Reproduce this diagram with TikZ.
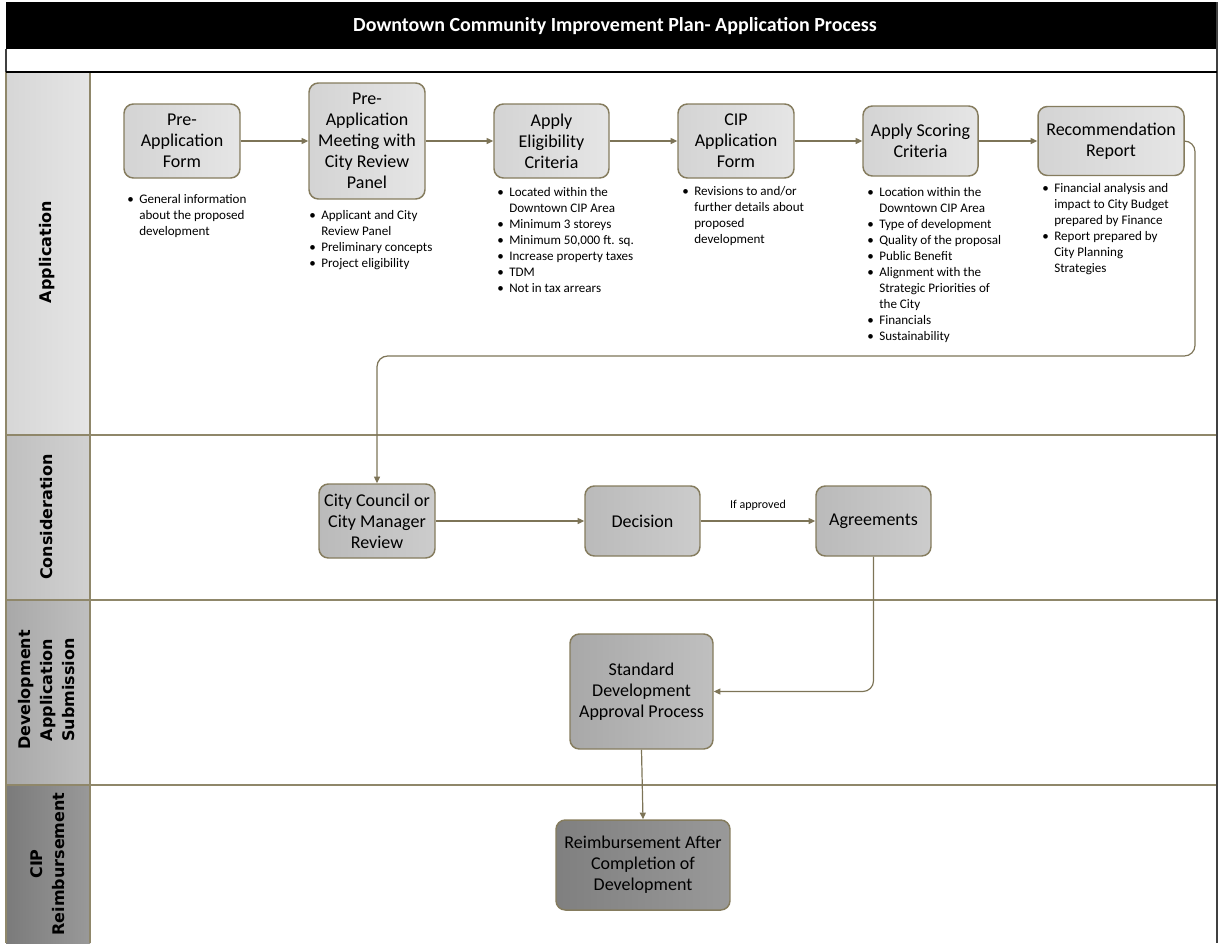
\documentclass[tikz,border=0pt]{standalone}
\usepackage{fontspec}
\setmainfont{Carlito}
\newfontfamily\lanefont{DejaVu Sans}
\usetikzlibrary{arrows.meta}
\definecolor{lineol}{HTML}{7D7457}
\definecolor{boxol}{HTML}{857C5E}
\definecolor{frameol}{HTML}{8F876A}
\newcommand{\bl}[1]{\begin{tabular}{@{}p{9pt}@{}l@{}}#1\end{tabular}}
\begin{document}
\begin{tikzpicture}[x=0.75pt,y=-0.75pt,
  box/.style={draw=boxol, line width=1.1pt, rounded corners=7pt, align=center,
    font=\fontsize{13.5}{15.75}\selectfont, inner sep=0pt},
  boxA/.style={box, left color=black!17, right color=black!10},
  boxB/.style={box, left color=black!27, right color=black!20},
  boxC/.style={box, left color=black!34, right color=black!25},
  boxD/.style={box, left color=black!50, right color=black!40},
  conn/.style={draw=lineol, line width=0.9pt, -{Triangle[length=5pt,width=4.5pt]}},
  blist/.style={anchor=north west, inner sep=0pt, font=\fontsize{9.8}{12}\selectfont},
  lane/.style={rotate=90, align=center, font=\lanefont\bfseries\fontsize{12}{16.5}\selectfont},
  sep/.style={draw=frameol, line width=1.1pt}]
\useasboundingbox (0,0) rectangle (1219,943);
% title bar
\fill[black] (6,2) rectangle (1217,49);
\node[text=white, font=\bfseries\fontsize{15}{18}\selectfont] (title) at (615,26) {Downtown Community Improvement Plan- Application Process};
% lane label column
\shade[left color=black!16, right color=black!10] (6,72) rectangle (90,435);
\shade[left color=black!25, right color=black!18] (6,435) rectangle (90,600);
\shade[left color=black!34, right color=black!25] (6,600) rectangle (90,785);
\shade[left color=black!52, right color=black!40] (6,785) rectangle (90,943);
% frame lines
\draw[sep] (6,435) -- (1217,435);
\draw[sep] (6,600) -- (1217,600);
\draw[sep] (6,785) -- (1217,785);
\draw[sep] (90,72) -- (90,943);
\draw[sep] (6,72) -- (6,943);
\draw[black!75, line width=1.1pt] (6,49) -- (6,72);
\draw[black!75, line width=1.1pt] (1217,2) -- (1217,943);
\draw[black, line width=1.3pt] (6,72) -- (1217,72);
% lane labels
\node[lane] (l1) at (47,252) {Application};
\node[lane] (l2) at (47,517) {Consideration};
\node[lane] (l3) at (47,690) {Development\\Application\\Submission};
\node[lane] (l4) at (48,864) {CIP\\Reimbursement};
% application boxes
\node[boxA, minimum width=87pt, minimum height=55.5pt] (b1) at (182,141) {Pre-\\Application\\Form};
\node[boxA, minimum width=87pt, minimum height=87pt] (b2) at (367,141) {Pre-\\Application\\Meeting with\\City Review\\Panel};
\node[boxA, minimum width=86.25pt, minimum height=55.5pt] (b3) at (551.5,141) {Apply\\Eligibility\\Criteria};
\node[boxA, minimum width=87pt, minimum height=55.5pt] (b4) at (736,141) {CIP\\Application\\Form};
\node[boxA, minimum width=86.25pt, minimum height=52.5pt] (b5) at (920.5,141) {Apply Scoring\\Criteria};
\node[boxA, minimum width=109.5pt, minimum height=51.75pt] (b6) at (1111,141) {Recommendation\\Report};
% bullet lists
\node[blist] (t1) at (127,192) {\bl{\textbullet & General information\\ & about the proposed\\ & development}};
\node[blist] (t2) at (309,208) {\bl{\textbullet & Applicant and City\\ & Review Panel\\ \textbullet & Preliminary concepts\\ \textbullet & Project eligibility}};
\node[blist] (t3) at (497,185) {\bl{\textbullet & Located within the\\ & Downtown CIP Area\\ \textbullet & Minimum 3 storeys\\ \textbullet & Minimum 50,000 ft. sq.\\ \textbullet & Increase property taxes\\ \textbullet & TDM\\ \textbullet & Not in tax arrears}};
\node[blist] (t4) at (682,184) {\bl{\textbullet & Revisions to and/or\\ & further details about\\ & proposed\\ & development}};
\node[blist] (t5) at (867,185) {\bl{\textbullet & Location within the\\ & Downtown CIP Area\\ \textbullet & Type of development\\ \textbullet & Quality of the proposal\\ \textbullet & Public Benefit\\ \textbullet & Alignment with the\\ & Strategic Priorities of\\ & the City\\ \textbullet & Financials\\ \textbullet & Sustainability}};
\node[blist] (t6) at (1042,181) {\bl{\textbullet & Financial analysis and\\ & impact to City Budget\\ & prepared by Finance\\ \textbullet & Report prepared by\\ & City Planning\\ & Strategies}};
% consideration boxes
\node[boxB, minimum width=87pt, minimum height=55.5pt] (cc) at (377,521) {City Council or\\City Manager\\Review};
\node[boxB, minimum width=86.25pt, minimum height=52.5pt] (dc) at (642.5,521) {Decision};
\node[boxB, minimum width=86.25pt, minimum height=52.5pt] (ag) at (873.5,521) {Agreements};
% development & reimbursement
\node[boxC, minimum width=107.25pt, minimum height=86.25pt] (sd) at (641.5,691.5) {Standard\\Development\\Approval Process};
\node[boxD, minimum width=130.5pt, minimum height=67.5pt] (rb) at (643,865) {Reimbursement After\\Completion of\\Development};
% connectors
\draw[conn] (b1) -- (b2);
\draw[conn] (b2) -- (b3);
\draw[conn] (b3) -- (b4);
\draw[conn] (b4) -- (b5);
\draw[conn] (b5) -- (b6);
\coordinate (r1) at (1195,356);
\coordinate (r2) at (377,356);
\draw[conn, rounded corners=8pt] (b6.east) -| (r1) -- (r2) -- (cc.north);
\draw[conn] (cc) -- (dc);
\draw[conn] (dc) -- node[above=4pt, font=\fontsize{9}{11}\selectfont] (ifa) {If approved} (ag);
\draw[conn, rounded corners=8pt] (ag.south) |- (sd.east);
\draw[conn] (sd.south) -- (rb.north);
\end{tikzpicture}
\end{document}
